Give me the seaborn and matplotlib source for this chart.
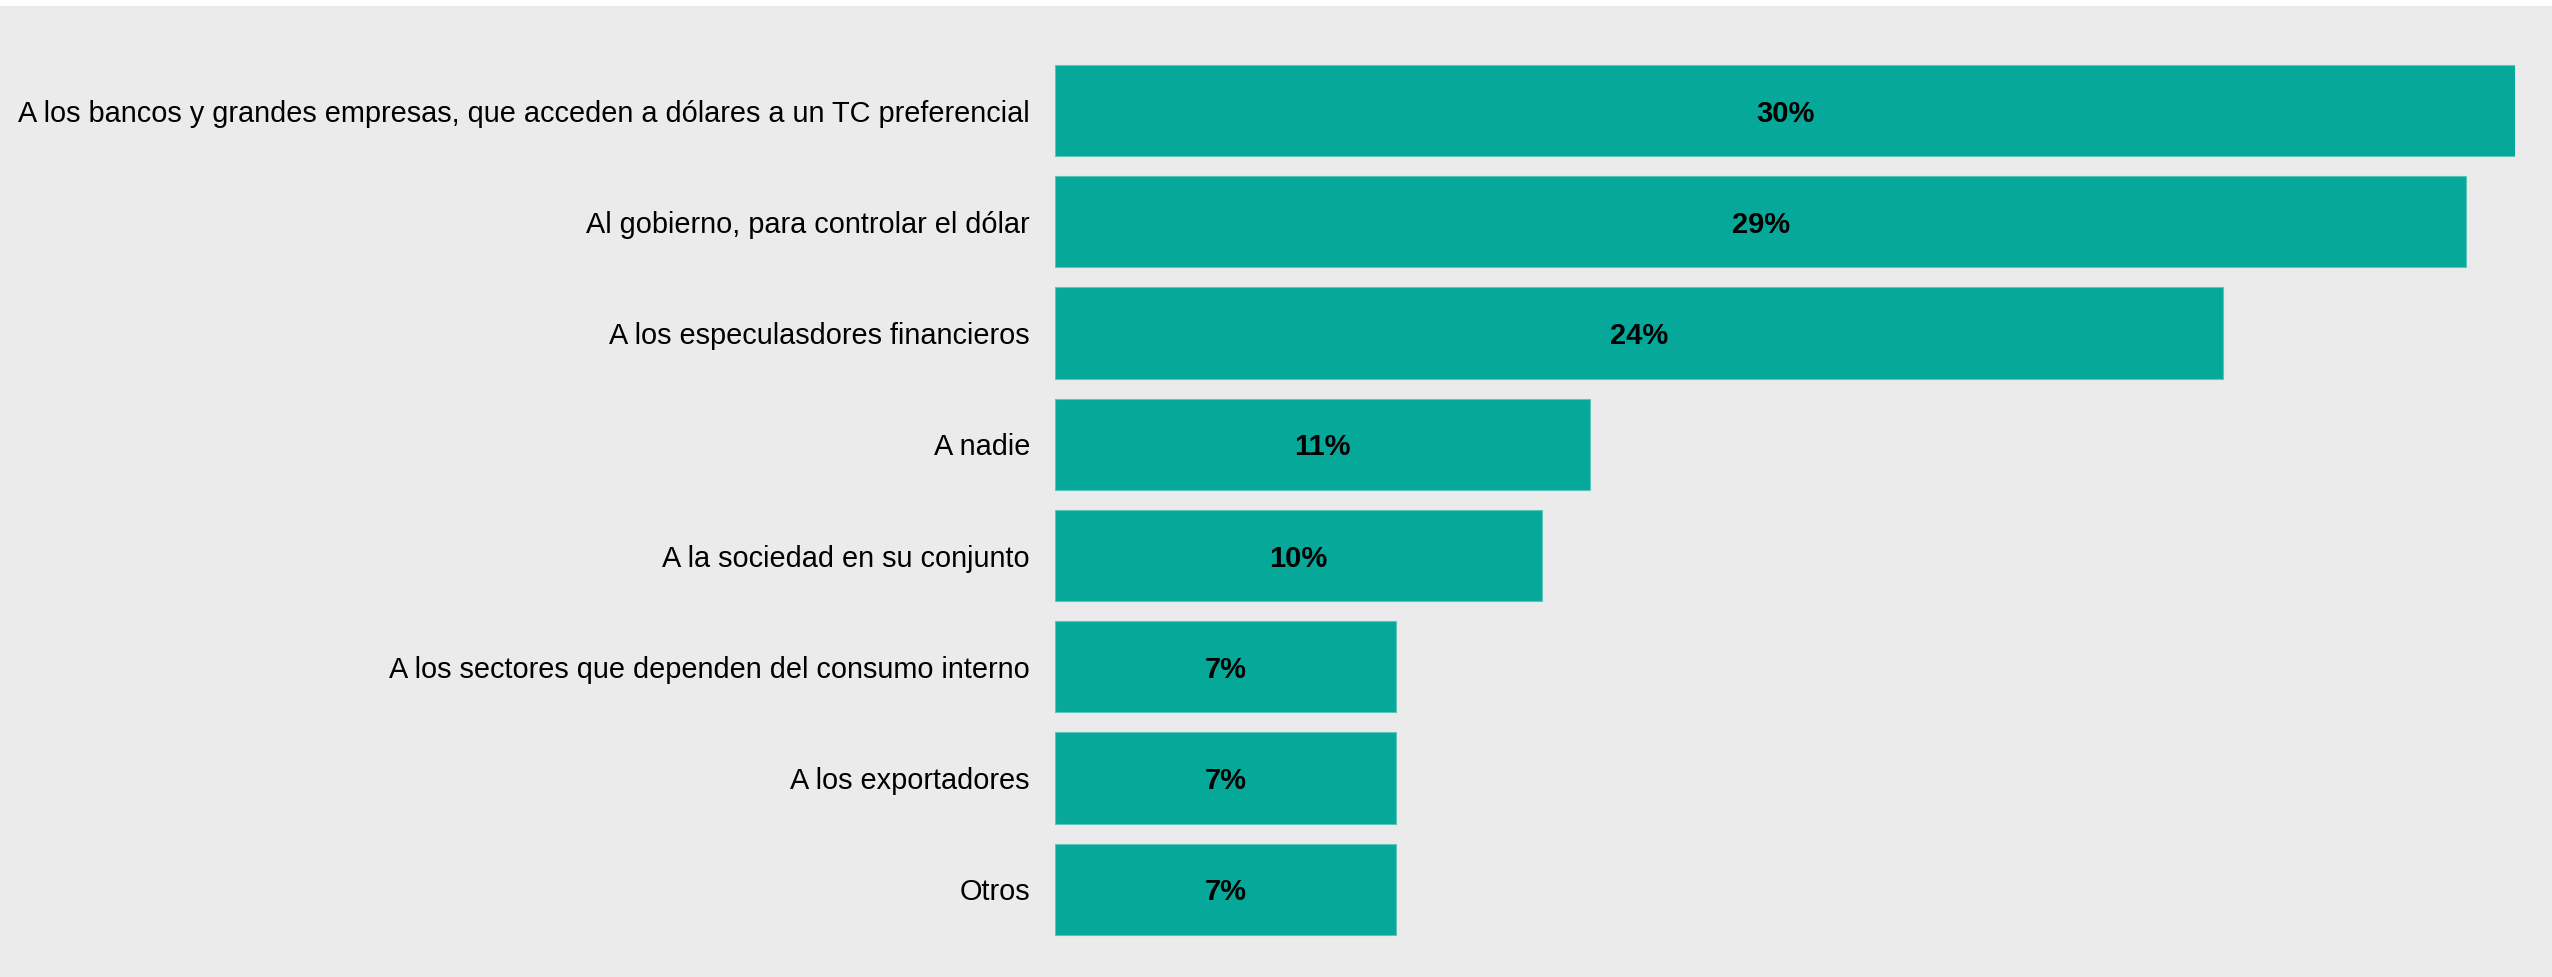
import matplotlib
matplotlib.use('Agg')
import matplotlib.pyplot as plt
import seaborn as sns
import pandas as pd

# datos del gráfico
categorias = [
    'A los bancos y grandes empresas, que acceden a dólares a un TC preferencial',
    'Al gobierno, para controlar el dólar',
    'A los especulasdores financieros',
    'A nadie',
    'A la sociedad en su conjunto',
    'A los sectores que dependen del consumo interno',
    'A los exportadores',
    'Otros',
]
porcentajes = [30, 29, 24, 11, 10, 7, 7, 7]

df = pd.DataFrame({'categoria': categorias, 'pct': porcentajes})

sns.set_style('white')
plt.rcParams['font.family'] = ['Liberation Sans', 'DejaVu Sans']

fondo = '#EBEBEB'
verde = '#06A89A'

fig = plt.figure(figsize=(25.52, 9.77), dpi=100, facecolor=fondo)
# franja blanca arriba
fig.patches.append(plt.Rectangle((0, 0.994), 1, 0.006, transform=fig.transFigure,
                                 facecolor='white', edgecolor='none', zorder=0))
ax = fig.add_axes([0.4134, 0.0328, 0.5721, 0.911])
ax.set_facecolor(fondo)

sns.barplot(data=df, x='pct', y='categoria', color=verde, saturation=1,
            width=0.82, orient='h', edgecolor='#5CC4BA', linewidth=0.8, ax=ax)

for i, v in enumerate(df['pct']):
    ax.text(v / 2, i, f'{v}%', ha='center', va='center_baseline',
            fontsize=21, fontweight='bold', color='black')

ax.set_xlim(0, 30)
ax.set_ylim(7.5, -0.5)
ax.set_xlabel('')
ax.set_ylabel('')
ax.set_xticks([])
ax.tick_params(axis='y', length=0, pad=18, labelsize=20.8, labelcolor='black')
sns.despine(ax=ax, left=True, bottom=True)

fig.savefig('out.png', dpi=100, facecolor=fondo)
